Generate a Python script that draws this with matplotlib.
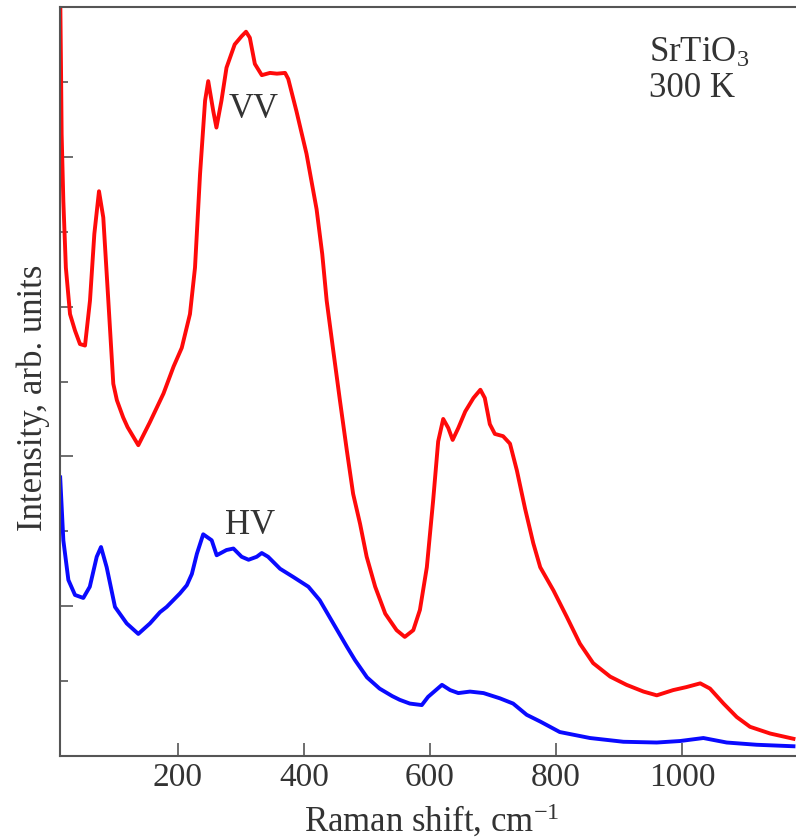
"""
Raman spectra of SrTiO3 at 300 K, VV and HV polarisations
"""
import matplotlib
matplotlib.use("Agg")
import matplotlib.pyplot as plt
from matplotlib.ticker import MultipleLocator

# VV spectrum (red)
vv_shift = [13, 14.3, 15.3, 18, 22, 28.6, 36.5, 44.4, 52.4, 60.3,
            67.2, 74.6, 81.4, 89.4, 97.3, 103, 113, 120, 137, 155,
            177, 193, 206, 219, 227, 235, 243, 248, 256, 261,
            269, 277, 290, 301, 308, 314, 322, 333, 346, 357,
            370, 375, 388, 404, 420, 429, 436, 446.5, 457, 468,
            478, 489, 499.5, 513, 529, 547, 560, 573.5, 584, 595,
            605, 613, 621, 629, 636, 645, 656, 669, 680, 687,
            695, 703, 716, 727, 738, 751, 764, 775, 796, 817,
            838, 859, 886, 912, 939, 960, 986, 1007, 1029, 1044.5,
            1066, 1087, 1108, 1140, 1177]
vv_int = [10.2, 9.19, 8.3, 7.41, 6.52, 5.90, 5.68, 5.5, 5.48, 6.08,
          6.97, 7.54, 7.19, 6.08, 4.97, 4.75, 4.52, 4.39, 4.15, 4.45,
          4.84, 5.2, 5.45, 5.9, 6.52, 7.77, 8.75, 9.01, 8.61, 8.39,
          8.75, 9.19, 9.5, 9.61, 9.67, 9.59, 9.24, 9.09, 9.12, 9.11,
          9.12, 9.04, 8.61, 8.04, 7.3, 6.7, 6.08, 5.41, 4.75, 4.08,
          3.50, 3.10, 2.66, 2.26, 1.90, 1.68, 1.59, 1.68, 1.95, 2.52,
          3.41, 4.2, 4.50, 4.38, 4.22, 4.38, 4.60, 4.78, 4.89, 4.78,
          4.43, 4.30, 4.27, 4.17, 3.81, 3.30, 2.84, 2.52, 2.21, 1.86,
          1.50, 1.24, 1.06, 0.95, 0.86, 0.81, 0.88, 0.92, 0.97, 0.90,
          0.70, 0.52, 0.39, 0.30, 0.23]

# HV spectrum (blue)
hv_shift = [13, 18, 26, 36.5, 49.7, 60, 71, 77.8, 86.8, 100,
            118.6, 137, 155.5, 171.4, 182, 203, 214, 222, 230, 240,
            253.5, 261.4, 277, 288, 301, 312, 325, 333, 343, 362,
            383, 407, 425, 446.5, 468, 481, 500, 520, 540, 552,
            568, 587, 597, 619, 632, 645, 663.5, 685, 711, 732,
            753.5, 775, 806, 854, 907, 960, 997, 1034, 1071, 1118.5,
            1177]
hv_int = [3.72, 2.88, 2.35, 2.15, 2.11, 2.26, 2.66, 2.79, 2.52, 1.99,
          1.77, 1.63, 1.77, 1.92, 1.99, 2.17, 2.28, 2.43, 2.70, 2.96,
          2.88, 2.68, 2.75, 2.77, 2.66, 2.62, 2.66, 2.71, 2.66, 2.50,
          2.39, 2.26, 2.08, 1.77, 1.46, 1.28, 1.05, 0.9, 0.8, 0.75,
          0.70, 0.68, 0.79, 0.95, 0.88, 0.84, 0.86, 0.84, 0.77, 0.70,
          0.55, 0.46, 0.32, 0.24, 0.19, 0.18, 0.20, 0.24, 0.18, 0.15,
          0.13]

x_ticks = [200, 400, 600, 800, 1000]

plt.rcParams['font.family'] = ['Liberation Serif', 'DejaVu Serif']
plt.rcParams['mathtext.fontset'] = 'custom'
plt.rcParams['mathtext.rm'] = 'Liberation Serif'
plt.rcParams['mathtext.it'] = 'Liberation Serif:italic'
txt_col = '#333333'
spine_col = '#555555'

fig = plt.figure(figsize=(7.96, 8.4), dpi=100)
ax = fig.add_axes([60 / 796, 84 / 840, 736 / 796, 749 / 840])

ax.plot(vv_shift, vv_int, color='#ff0a0a', lw=2.8, solid_joinstyle='round')
ax.plot(hv_shift, hv_int, color='#0a0aff', lw=2.8, solid_joinstyle='round')

ax.set_xlim(12.7, 1181)
ax.set_ylim(0, 10)

ax.set_xticks(x_ticks)
ax.yaxis.set_major_locator(MultipleLocator(2))
ax.yaxis.set_minor_locator(MultipleLocator(1))
ax.set_yticklabels([])
ax.tick_params(axis='x', direction='in', length=9.5, width=1.2, colors=spine_col,
               labelcolor=txt_col, labelsize=24, pad=5)
ax.tick_params(axis='y', which='major', direction='in', length=9.5, width=1.2,
               colors=spine_col)
ax.tick_params(axis='y', which='minor', direction='in', length=6, width=1.2,
               colors=spine_col)

for side in ['left', 'bottom', 'top']:
    ax.spines[side].set_color(spine_col)
    ax.spines[side].set_linewidth(1.5)
ax.spines['right'].set_visible(False)

ax.set_xlabel('Raman shift, cm$^{-1}$', fontsize=25, color=txt_col, va='center')
ax.xaxis.set_label_coords(0.505, -0.087)
ax.set_ylabel('Intensity, arb. units', fontsize=25, color=txt_col, va='center')
ax.yaxis.set_label_coords(-0.036, 0.478)

# labels and sample note
ax.text(320, 8.63, 'VV', fontsize=25, color=txt_col, ha='center', va='center')
ax.text(314, 3.08, 'HV', fontsize=25, color=txt_col, ha='center', va='center')
ax.text(0.8, 0.915, 'SrTiO$_3$\n300 K', transform=ax.transAxes, fontsize=25,
        color=txt_col, ha='left', va='center', linespacing=1.1)

fig.savefig('out.png', dpi=100)
